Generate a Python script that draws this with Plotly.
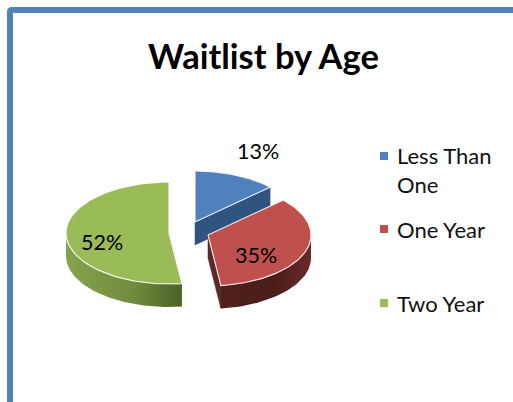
import numpy as np
import plotly.graph_objects as go

# --- data ---
categories = ["Less Than One", "One Year", "Two Year"]
legend_labels = ["Less Than<br>One", "One Year", "Two Year"]
values = [13, 35, 52]
title_text = "Waitlist by Age"

# --- style / layout ---
W, H = 513, 402
top_colors = ["#4f81bd", "#c0504d", "#9bbb59"]
side_colors = ["#2f5480", "#4f1f1d", "#7f9a48"]
rim_scales = [
    None,
    [[0, "#4f1f1d"], [0.6, "#4a1d1b"], [1, "#6a2a28"]],
    [[0, "#86a34c"], [0.6, "#6f8a3e"], [1, "#4c6126"]],
]
centers = [(195, 222), (208, 235), (169, 233)]
RX, RY, DEPTH = 103, 51, 23
label_xy = [(258, 151), (256, 255), (102, 242)]
legend_xy = [(384, 156), (384, 229), (384, 303)]
legend_text_y = [170, 229, 303]
FONT = "Lato"

fractions = np.array(values) / sum(values)
ends = np.cumsum(fractions) * 360
starts = ends - fractions * 360


def pt(c, a, dz=0):
    r = np.radians(a)
    return c[0] + RX * np.sin(r), c[1] - RY * np.cos(r) + dz


fig = go.Figure()


def poly(xs, ys, **kw):
    fig.add_trace(go.Scatter(x=list(xs), y=list(ys), mode="lines", fill="toself",
                             showlegend=False, hoverinfo="skip", **kw))


order = [0, 2, 1]
for i in order:
    c, a0, a1 = centers[i], starts[i], ends[i]
    # cut face at the slice's end, when it faces the viewer
    if i == 0:
        ex, ey = pt(c, a1)
        poly([c[0], ex, ex, c[0], c[0]], [c[1], ey, ey + DEPTH, c[1] + DEPTH, c[1]],
             line=dict(color=side_colors[i], width=0.5), fillcolor=side_colors[i])
    if i == 1:
        ex, ey = pt(c, a1)
        poly([c[0], ex, ex, c[0], c[0]], [c[1], ey, ey + DEPTH, c[1] + DEPTH, c[1]],
             line=dict(color=side_colors[i], width=0.5), fillcolor="#5a2a28")
    # outer rim, front-facing part only
    lo, hi = max(a0, 90), min(a1, 270)
    if lo < hi and rim_scales[i]:
        t = np.linspace(lo, hi, 60)
        x1, y1 = pt(c, t)
        x2, y2 = pt(c, t[::-1], DEPTH)
        poly(np.r_[x1, x2, x1[0]], np.r_[y1, y2, y1[0]],
             line=dict(color=side_colors[i], width=0),
             fillgradient=dict(type="horizontal", colorscale=rim_scales[i]))
    # top face
    t = np.linspace(a0, a1, 90)
    x, y = pt(c, t)
    poly(np.r_[c[0], x, c[0]], np.r_[c[1], y, c[1]],
         line=dict(color="rgba(255,255,255,0.85)", width=1.2),
         fillcolor=top_colors[i], name=categories[i])

# legend swatches
fig.add_trace(go.Scatter(
    x=[p[0] for p in legend_xy], y=[p[1] for p in legend_xy], mode="markers",
    marker=dict(symbol="square", size=8, color=top_colors, line=dict(width=0)),
    showlegend=False, hovertext=categories, hoverinfo="text"))

ann = []
for v, (x, y) in zip(values, label_xy):
    ann.append(dict(x=x, y=y, text=f"{v}%", showarrow=False, xanchor="center",
                    yanchor="middle", font=dict(family=FONT, size=21.5, color="#000")))
for lab, (x, _), y in zip(legend_labels, legend_xy, legend_text_y):
    ann.append(dict(x=395, y=y, text=lab, showarrow=False, xanchor="left", align="left",
                    yanchor="middle", font=dict(family=FONT, size=22, color="#111")))
ann.append(dict(x=263, y=55, text=f"<b>{title_text}</b>", showarrow=False, xanchor="center",
                yanchor="middle", font=dict(family=FONT, size=34.5, color="#000")))

fig.update_layout(
    width=W, height=H, autosize=False,
    margin=dict(l=0, r=0, t=0, b=0),
    paper_bgcolor="#fff", plot_bgcolor="#fff",
    xaxis=dict(range=[0, W], visible=False, fixedrange=True),
    yaxis=dict(range=[H, 0], visible=False, fixedrange=True),
    annotations=ann,
    shapes=[dict(type="path", xref="x", yref="y",
                 path=f"M 10 {H+10} L 10 12 Q 10 10 12 10 L {W+10} 10",
                 line=dict(color="#4f81bd", width=6), layer="below")],
)
fig.write_html("out.html", config={"displayModeBar": False},
               post_script="document.body.style.margin='0';document.body.style.overflow='hidden';")
